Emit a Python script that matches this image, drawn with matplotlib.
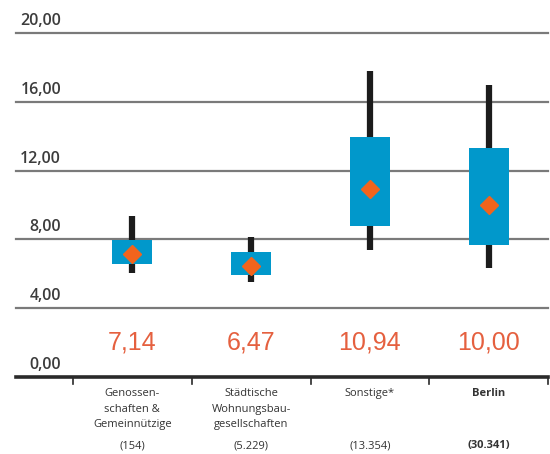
import matplotlib.pyplot as plt
import matplotlib.transforms as mtransforms

plt.rcParams['font.family'] = ['Open Sans', 'DejaVu Sans']

categories = ['Genossen-\nschaften &\nGemeinnützige', 'Städtische\nWohnungsbau-\ngesellschaften',
              'Sonstige*', 'Berlin']
counts = ['(154)', '(5.229)', '(13.354)', '(30.341)']
means = [7.14, 6.47, 10.94, 10.00]
box_low = [6.57, 5.93, 8.78, 7.67]
box_high = [7.97, 7.27, 13.95, 13.30]
whisk_low = [6.05, 5.52, 7.38, 6.34]
whisk_high = [9.36, 8.14, 17.80, 17.00]
yticks = [0, 4, 8, 12, 16, 20]

fig = plt.figure(figsize=(5.5, 4.54), dpi=100)
ax = fig.add_axes([16/550, 77/454, 532/550, 344/454])
ax.set_xlim(-0.98, 3.5)
ax.set_ylim(0, 20)
ax.axis('off')

# gridlines with labels sitting above them
for t in yticks[1:]:
    ax.axhline(t, color='#7a7a7a', lw=1.6, zorder=1, clip_on=False)
lab_tr = mtransforms.offset_copy(ax.transData, fig=fig, x=0, y=4, units='dots')
for t in yticks:
    ax.text(-0.6, t, ('%.2f' % t).replace('.', ','), ha='right', va='bottom',
            fontsize=11.5, fontweight='semibold', color='#3c3c3c', transform=lab_tr)

# baseline with category separators
ax.axhline(0, color='#2a2a2a', lw=2.6, zorder=3, clip_on=False)
for b in [-0.5, 0.5, 1.5, 2.5, 3.5]:
    ax.plot([b, b], [0, -0.4], color='#2a2a2a', lw=1.2, clip_on=False)

w = 0.336
for i in range(len(categories)):
    ax.plot([i, i], [whisk_low[i], whisk_high[i]], color='#1c1c1c', lw=4.5,
            solid_capstyle='butt', zorder=2)
    ax.bar(i, box_high[i] - box_low[i], bottom=box_low[i], width=w,
           color='#0198cb', zorder=3)
    ax.plot(i, means[i], marker='D', ms=9, color='#f1641c', mec='#f1641c', zorder=4)
    ax.text(i, 2.0, ('%.2f' % means[i]).replace('.', ','), ha='center', va='center',
            fontsize=18, color='#e5603f', family=['Liberation Sans', 'DejaVu Sans'])
    bold = 'bold' if categories[i] == 'Berlin' else 'normal'
    ax.text(i, -0.65, categories[i], ha='center', va='top', fontsize=8,
            color='#333333', linespacing=1.55, fontweight=bold, clip_on=False)
    ax.text(i, -4.0, counts[i], ha='center', va='center', fontsize=8,
            color='#333333', fontweight=bold, clip_on=False)

fig.savefig('out.png', dpi=100)
